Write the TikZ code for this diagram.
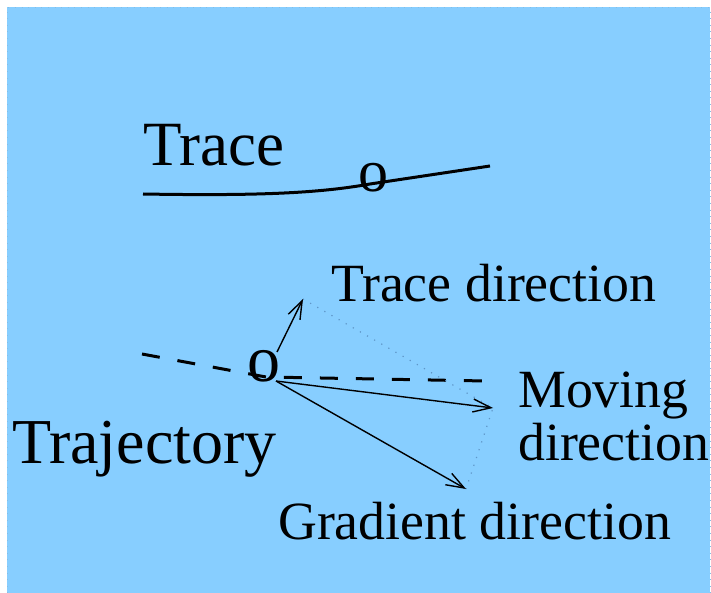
\documentclass[tikz,border=0pt]{standalone}
\usepackage{fontspec}
\setmainfont{Liberation Serif}
\usetikzlibrary{arrows.meta}
\definecolor{bgblue}{RGB}{135,206,255}
\definecolor{dotblue}{RGB}{95,150,200}
\tikzset{
  bigtext/.style={anchor=base west, inner sep=0pt, font=\fontsize{64}{64}\selectfont},
  tracetext/.style={anchor=base west, inner sep=0pt, font=\fontsize{63}{63}\selectfont},
  midtext/.style={anchor=base west, inner sep=0pt, font=\fontsize{53.8}{53.8}\selectfont},
  omark/.style={inner sep=0pt, font=\fontsize{60}{60}\selectfont},
  vec/.style={line width=1.4pt, -{Straight Barb[length=18pt,width=13pt,line width=1.4pt]}},
  helper/.style={dotblue, line width=1.2pt, dash pattern=on 1.2pt off 7pt},
  thick curve/.style={line width=3pt},
  dashcurve/.style={line width=3pt, dash pattern=on 18pt off 18pt},
}
\begin{document}
\begin{tikzpicture}[x=1pt,y=-1pt]
\useasboundingbox (0,0) rectangle (711,593);
\fill[bgblue] (7,7) rectangle (710,593);
\draw[bgblue!80!gray, line width=0.6pt, dash pattern=on 0.6pt off 6pt] (7,593) -- (7,7) -- (710,7) -- (710,593);
% labels
\node[tracetext] (trace) at (143,166) {Trace};
\node[bigtext] (traj) at (12,463) {Trajectory};
\node[midtext] (tdir) at (331,301) {Trace direction};
\node[midtext] (mov) at (518,407) {Moving};
\node[midtext] (mdir) at (518,460) {direction};
\node[midtext] (gdir) at (278,539) {Gradient direction};
% trace curve
\draw[thick curve] (143,194) .. controls (260,196) and (320,193) .. (370,184) -- (490,166);
\node[omark] (o1) at (373,178) {o};
% trajectory dashed
\draw[dashcurve] (142,354) -- (266,377) -- (486,381);
\node[omark, font=\fontsize{66}{66}\selectfont] (o2) at (264,366) {o};
% vectors
\coordinate (top) at (277,352);
\coordinate (org) at (276,381);
\coordinate (tT) at (303,299);
\coordinate (tM) at (493,408);
\coordinate (tG) at (466,489);
\draw[helper] (tT) -- (tM) -- (tG);
\draw[vec] (top) -- (tT);
\draw[vec] (org) -- (tM);
\draw[vec] (org) -- (tG);
\end{tikzpicture}
\end{document}
